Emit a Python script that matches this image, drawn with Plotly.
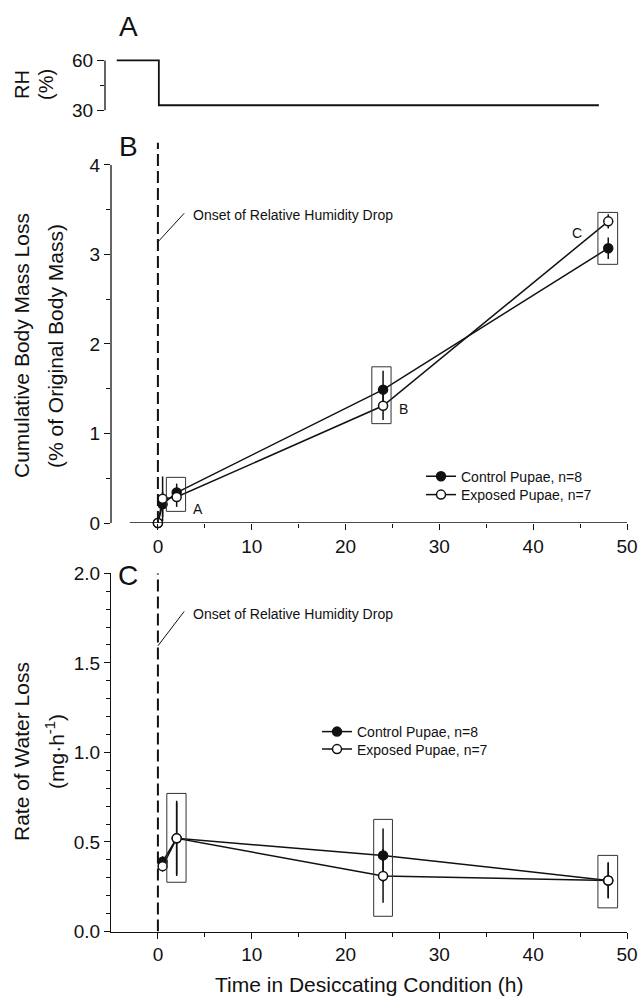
import plotly.graph_objects as go

# ---------------- data ----------------
rh_time = [-4.5, 0, 0, 47]
rh_value = [60, 60, 33, 33]

time_b = [0, 0.5, 2, 24, 48]
control_b = [0.0, 0.21, 0.34, 1.49, 3.07]
control_b_err = [0.0, 0.14, 0.10, 0.21, 0.12]
exposed_b = [0.0, 0.27, 0.29, 1.31, 3.37]
exposed_b_err = [0.0, 0.25, 0.11, 0.16, 0.08]

time_c = [0.5, 2, 24, 48]
control_c = [0.39, 0.52, 0.425, 0.285]
control_c_err = [0.03, 0.21, 0.15, 0.10]
exposed_c = [0.365, 0.52, 0.31, 0.285]
exposed_c_err = [0.03, 0.20, 0.15, 0.10]

# significance boxes (x0, x1, y0, y1) and their letters
boxes_b = [(0.9, 2.95, 0.13, 0.51), (22.8, 24.85, 1.11, 1.745), (46.9, 49.0, 2.89, 3.47)]
box_letters_b = [("A", 4.3, 0.16), ("B", 26.2, 1.27), ("C", 44.7, 3.24)]
boxes_c = [(0.95, 3.0, 0.275, 0.771), (23.0, 25.0, 0.085, 0.626), (46.9, 49.0, 0.132, 0.425)]

x_major = [0, 10, 20, 30, 40, 50]
x_minor = [5, 15, 25, 35, 45]
yb_major = [0, 1, 2, 3, 4]
yb_minor = [0.5, 1.5, 2.5, 3.5]
yc_major = [0, 0.5, 1.0, 1.5, 2.0]
yc_labels = ["0.0", "0.5", "1.0", "1.5", "2.0"]
yc_minor = [0.1, 0.2, 0.3, 0.4, 0.6, 0.7, 0.8, 0.9, 1.1, 1.2, 1.3, 1.4, 1.6, 1.7, 1.8, 1.9]

W, H = 640, 998
FONT = "Liberation Sans, Arial, Helvetica, sans-serif"
INK = "#111111"


def px(x):
    return x / W


def py(y):
    return 1 - y / H


fig = go.Figure()

# panel A
fig.add_trace(go.Scatter(x=rh_time, y=rh_value, mode="lines", xaxis="x3", yaxis="y3",
                         line=dict(color=INK, width=1.8), showlegend=False, cliponaxis=False))


def add_series(x, y, err, name, filled, xa, ya, leg):
    fig.add_trace(go.Scatter(
        x=x, y=y, mode="lines+markers", name=name, xaxis=xa, yaxis=ya, legend=leg,
        line=dict(color=INK, width=1.5),
        marker=dict(symbol="circle", size=9, color=INK if filled else "white",
                    line=dict(color=INK, width=1.5)),
        error_y=dict(type="data", array=err, visible=True, width=0, thickness=1.5, color=INK),
        cliponaxis=False,
    ))


add_series(time_b, control_b, control_b_err, "Control Pupae, n=8", True, "x", "y", "legend")
add_series(time_b, exposed_b, exposed_b_err, "Exposed Pupae, n=7", False, "x", "y", "legend2")
add_series(time_c, control_c, control_c_err, "Control Pupae, n=8", True, "x2", "y2", "legend3")
add_series(time_c, exposed_c, exposed_c_err, "Exposed Pupae, n=7", False, "x2", "y2", "legend4")

shapes = []
# axis lines for B (offset style)
shapes.append(dict(type="line", xref="x domain", yref="y", x0=0, x1=0, y0=0, y1=4,
                   line=dict(color=INK, width=1.3)))
shapes.append(dict(type="line", xref="x", yref="y", x0=-3, x1=50, y0=0, y1=0,
                   line=dict(color=INK, width=1.3)))
# axis line for A
shapes.append(dict(type="line", xref="x3 domain", yref="y3", x0=0, x1=0, y0=30, y1=60,
                   line=dict(color=INK, width=1.3)))
# dashed onset lines
shapes.append(dict(type="line", xref="x", yref="y", x0=0, x1=0, y0=0, y1=4.25,
                   line=dict(color=INK, width=2, dash="12px,5px")))
shapes.append(dict(type="line", xref="x2", yref="y2", x0=0, x1=0, y0=0, y1=2.0,
                   line=dict(color=INK, width=2, dash="12px,5px")))
# leader lines
shapes.append(dict(type="line", xref="x", yref="y", x0=0, x1=2.8, y0=3.14, y1=3.46,
                   line=dict(color=INK, width=1)))
shapes.append(dict(type="line", xref="x2", yref="y2", x0=0, x1=2.8, y0=1.595, y1=1.787,
                   line=dict(color=INK, width=1)))
for (x0, x1, y0, y1) in boxes_b:
    shapes.append(dict(type="rect", xref="x", yref="y", x0=x0, x1=x1, y0=y0, y1=y1,
                       line=dict(color="#333", width=1)))
for (x0, x1, y0, y1) in boxes_c:
    shapes.append(dict(type="rect", xref="x2", yref="y2", x0=x0, x1=x1, y0=y0, y1=y1,
                       line=dict(color="#333", width=1)))

ann = []


def txt(text, x, y, size, angle=0, xanchor="center", xref="paper", yref="paper"):
    ann.append(dict(text=text, x=x, y=y, xref=xref, yref=yref, showarrow=False,
                    textangle=angle, xanchor=xanchor, yanchor="middle",
                    font=dict(family=FONT, size=size, color=INK)))


txt("A", px(128), py(27), 28)
txt("B", px(128), py(146), 28)
txt("C", px(128), py(575), 28)
txt("RH", px(22), py(85), 20, -90)
txt("(%)", px(46), py(85), 20, -90)
txt("Cumulative Body Mass Loss", px(21), py(346), 21, -90)
txt("(% of Original Body Mass)", px(55), py(346), 21, -90)
txt("Rate of Water Loss", px(21), py(752), 21, -90)
txt("(mg·h<sup>-1</sup>)", px(55), py(752), 21, -90)
txt("Time in Desiccating Condition (h)", px(369), py(984), 21)
txt("Onset of Relative Humidity Drop", 3.5, 3.44, 14, xanchor="left", xref="x", yref="y")
txt("Onset of Relative Humidity Drop", 3.5, 1.77, 14, xanchor="left", xref="x2", yref="y2")
for (lab, x, y) in box_letters_b:
    txt(lab, x, y, 14, xanchor="center", xref="x", yref="y")

tickfont = dict(family=FONT, size=19, color=INK)
common_x = dict(range=[-5, 50], tickmode="array", tickvals=x_major, ticks="outside", ticklen=6,
                tickwidth=1.3, tickcolor=INK, tickfont=tickfont, showgrid=False, zeroline=False,
                automargin=False,
                minor=dict(tickmode="array", tickvals=x_minor, ticks="outside", ticklen=4,
                           tickwidth=1.3, tickcolor=INK, showgrid=False))


def leg(xpx, ypx):
    return dict(x=px(xpx), y=py(ypx), xanchor="left", yanchor="middle",
                bgcolor="rgba(0,0,0,0)", borderwidth=0,
                font=dict(family=FONT, size=14, color=INK))


fig.update_layout(
    width=W, height=H, margin=dict(l=0, r=0, t=0, b=0),
    paper_bgcolor="white", plot_bgcolor="white",
    font=dict(family=FONT, color=INK),
    xaxis=dict(domain=[px(111), px(627)], anchor="y", showline=False, **common_x),
    yaxis=dict(domain=[py(523), py(142.6)], anchor="x", range=[0, 4.25], tickmode="array",
               tickvals=yb_major, ticks="outside", ticklen=6, tickwidth=1.3, tickcolor=INK,
               tickfont=tickfont, showgrid=False, zeroline=False, showline=False, automargin=False,
               minor=dict(tickmode="array", tickvals=yb_minor, ticks="outside", ticklen=4,
                          tickwidth=1.3, tickcolor=INK, showgrid=False)),
    xaxis2=dict(domain=[px(111), px(627)], anchor="y2", showline=True, linewidth=1.3,
                linecolor=INK, **common_x),
    yaxis2=dict(domain=[py(931.5), py(573.3)], anchor="x2", range=[0, 2.0], tickmode="array",
                tickvals=yc_major, ticktext=yc_labels, ticks="outside", ticklen=6, tickwidth=1.3,
                tickcolor=INK, tickfont=tickfont, showgrid=False, zeroline=False, showline=True,
                linewidth=1.3, linecolor=INK, automargin=False,
                minor=dict(tickmode="array", tickvals=yc_minor, ticks="outside", ticklen=4,
                           tickwidth=1.3, tickcolor=INK, showgrid=False)),
    xaxis3=dict(domain=[px(105), px(627)], anchor="y3", range=[-5.75, 50], visible=False),
    yaxis3=dict(domain=[py(111.9), py(57.1)], anchor="x3", range=[29, 62], tickmode="array",
                tickvals=[30, 60], ticks="outside", ticklen=7, tickwidth=1.3, tickcolor=INK,
                tickfont=tickfont, showgrid=False, zeroline=False, showline=False, automargin=False,
                minor=dict(tickmode="array", tickvals=[45], ticks="outside", ticklen=4,
                           tickwidth=1.3, tickcolor=INK, showgrid=False)),
    legend=leg(421, 476.7),
    legend2=leg(421, 495),
    legend3=leg(317, 732),
    legend4=leg(317, 749.5),
    shapes=shapes, annotations=ann,
)

fig.write_html("out.html", config={"displayModeBar": False},
               post_script="document.body.style.margin='0';document.body.style.padding='0';"
                           "document.body.style.overflow='hidden';"
                           "document.documentElement.style.overflow='hidden';")
